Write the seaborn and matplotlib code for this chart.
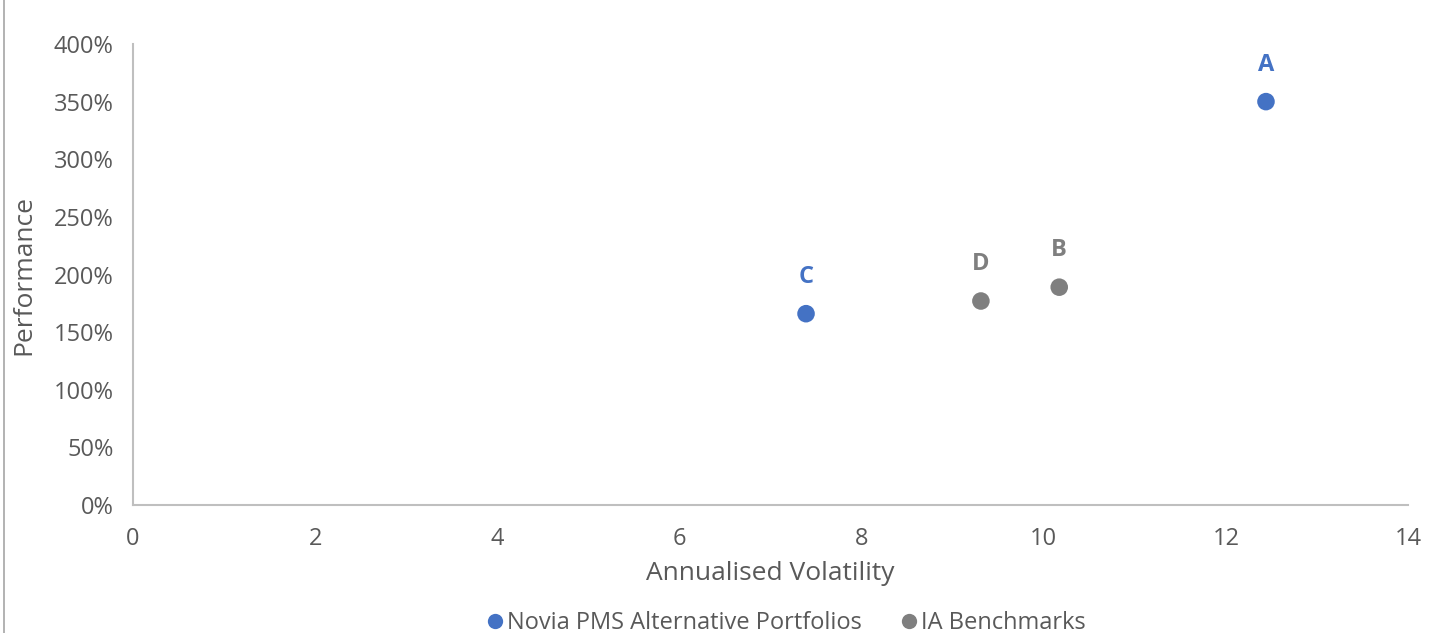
import matplotlib.pyplot as plt
import seaborn as sns
import pandas as pd
from matplotlib.lines import Line2D
from matplotlib.ticker import PercentFormatter

# 데이터
labels = ['A', 'C', 'B', 'D']
series = ['Novia PMS Alternative Portfolios', 'Novia PMS Alternative Portfolios',
          'IA Benchmarks', 'IA Benchmarks']
volatility = [12.44, 7.39, 10.17, 9.31]
performance = [3.50, 1.66, 1.89, 1.77]

series_order = ['Novia PMS Alternative Portfolios', 'IA Benchmarks']
colors = ['#4472C4', '#7F7F7F']

df = pd.DataFrame({'label': labels, 'series': series,
                   'vol': volatility, 'perf': performance})

sns.set_style('white')
plt.rcParams['font.family'] = ['Open Sans', 'DejaVu Sans']
text_col = '#595959'

fig = plt.figure(figsize=(14.39, 6.33), dpi=100)
ax = fig.add_axes([0.0924, 0.2022, 0.8861, 0.7283])

sns.scatterplot(data=df, x='vol', y='perf', hue='series', hue_order=series_order,
                palette=colors, s=160, edgecolor='none', ax=ax, legend=False)

# 점 위에 라벨
color_map = dict(zip(series_order, colors))
for _, r in df.iterrows():
    ax.annotate(r['label'], (r['vol'], r['perf']), xytext=(0, 18),
                textcoords='offset points', ha='center', va='bottom',
                fontsize=17, fontweight='bold', color=color_map[r['series']])

ax.set_xlim(0, 14)
ax.set_ylim(0, 4)
ax.set_xticks(range(0, 15, 2))
ax.set_yticks([i * 0.5 for i in range(9)])
ax.yaxis.set_major_formatter(PercentFormatter(1.0, decimals=0))
ax.tick_params(colors=text_col, labelsize=17, length=0)
ax.tick_params(axis='x', pad=16)
ax.tick_params(axis='y', pad=14)

for side in ['top', 'right']:
    ax.spines[side].set_visible(False)
for side in ['left', 'bottom']:
    ax.spines[side].set_color('#BFBFBF')
    ax.spines[side].set_linewidth(1.5)

ax.set_xlabel('Annualised Volatility', fontsize=19, color=text_col, labelpad=7)
ax.set_ylabel('Performance', fontsize=19, color=text_col, labelpad=12)

handles = [Line2D([], [], marker='o', linestyle='none', markersize=11,
                  markerfacecolor=c, markeredgecolor='none') for c in colors]
fig.legend(handles, series_order, loc='lower center', bbox_to_anchor=(0.545, -0.037),
           ncol=2, frameon=False, fontsize=17, labelcolor=text_col,
           handletextpad=0.0, columnspacing=1.5, handlelength=1.0)

# 왼쪽 테두리 선
fig.add_artist(Line2D([0.003, 0.003], [0, 1], color='#A6A6A6', linewidth=1.2))

fig.savefig('out.png', dpi=100)
